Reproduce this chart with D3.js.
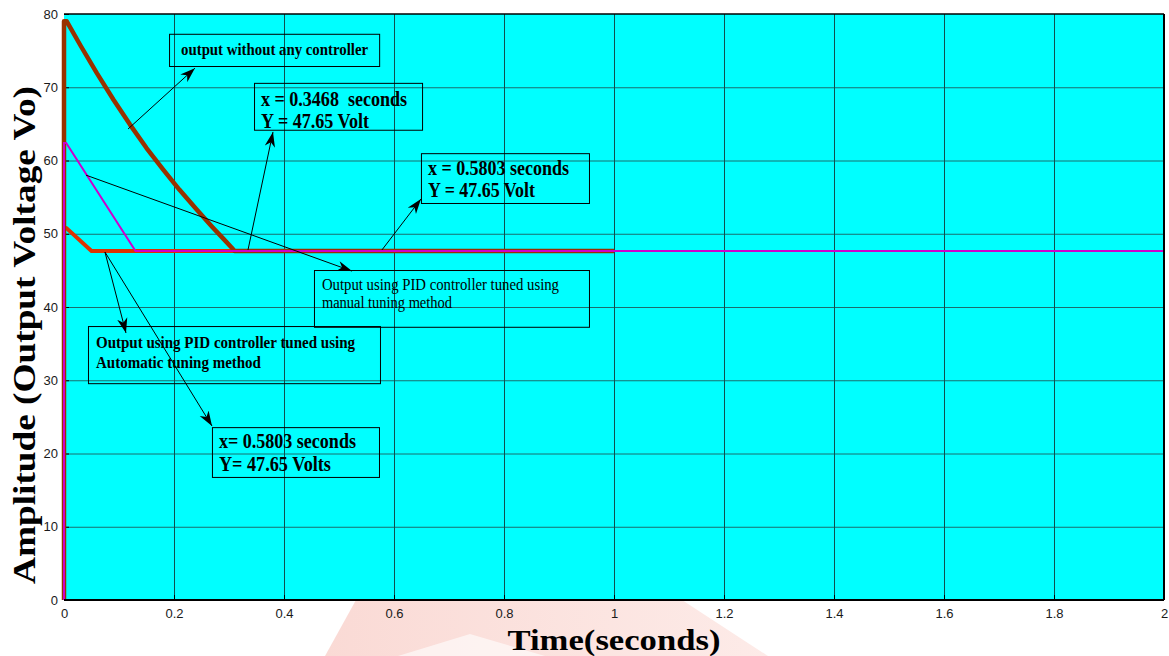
<!DOCTYPE html>
<html>
<head>
<meta charset="utf-8">
<script src="https://d3js.org/d3.v7.min.js"></script>
<style>
  body { margin: 0; background: #fff; }
  text { white-space: pre; }
</style>
</head>
<body>
<script>
// Response data (time in seconds, output voltage in volts)
var noCtrlTime = [0, 0, 0.005, 0.03, 0.06, 0.09, 0.12, 0.15, 0.18, 0.21, 0.24, 0.27, 0.29, 0.305, 0.31, 1.0];
var noCtrlVolt = [0, 79, 79, 75.7, 71.9, 68.3, 64.9, 61.7, 58.8, 56.0, 53.4, 50.9, 49.3, 48.1, 47.65, 47.65];

var manualTime = [0, 0, 0.004, 0.13, 2.0];
var manualVolt = [0, 62.4, 62.4, 47.65, 47.65];

var autoTime = [0, 0, 0.004, 0.05, 1.0];
var autoVolt = [0, 50.8, 50.8, 47.65, 47.65];

var xTicks = [0, 0.2, 0.4, 0.6, 0.8, 1, 1.2, 1.4, 1.6, 1.8, 2];
var yTicks = [0, 10, 20, 30, 40, 50, 60, 70, 80];

// annotation texts
var noteLines = [
  ["output without any controller"],
  ["x = 0.3468  seconds", "Y = 47.65 Volt"],
  ["x = 0.5803 seconds", "Y = 47.65 Volt"],
  ["Output using PID controller tuned using", "manual tuning method"],
  ["Output using PID controller tuned using", "Automatic tuning method"],
  ["x= 0.5803 seconds", "Y= 47.65 Volts"]
];

// Setting up sizes
var svgWidth = 1169;
var svgHeight = 656;
var margin = { top: 14, right: 5, bottom: 56, left: 64 };
var width = svgWidth - margin.left - margin.right;
var height = svgHeight - margin.top - margin.bottom;

var svg = d3.select("body")
  .append("svg")
  .attr("width", svgWidth)
  .attr("height", svgHeight);

// faint watermark behind the axis labels
var defs = svg.append("defs");
var grad = defs.append("linearGradient").attr("id", "wm").attr("x1", 0).attr("x2", 1);
grad.append("stop").attr("offset", "0").attr("stop-color", "#fadad5");
grad.append("stop").attr("offset", "1").attr("stop-color", "#fdebe8");
svg.append("path")
  .attr("d", "M356,600 L682,600 L768,656 L325,656 Z")
  .attr("fill", "url(#wm)");
svg.append("path")
  .attr("d", "M398,656 L470,634 L545,656 Z")
  .attr("fill", "#ffffff")
  .attr("opacity", 0.6);

defs.append("marker")
  .attr("id", "head")
  .attr("markerUnits", "userSpaceOnUse")
  .attr("viewBox", "-15 -6 16 12")
  .attr("refX", 0).attr("refY", 0)
  .attr("markerWidth", 16).attr("markerHeight", 12)
  .attr("orient", "auto")
  .append("path")
  .attr("d", "M0,0 L-15,-5.2 L-10.5,0 L-15,5.2 Z")
  .attr("fill", "#000");

var chart = svg.append("g")
  .attr("transform", "translate(" + margin.left + "," + margin.top + ")");

var x = d3.scaleLinear().domain([0, 2]).range([0, width]);
var y = d3.scaleLinear().domain([0, 80]).range([height, 0]);

chart.append("rect")
  .attr("width", width)
  .attr("height", height)
  .attr("fill", "#00ffff");

// grid
chart.selectAll(".hgrid")
  .data(yTicks.slice(1, -1))
  .enter().append("line")
  .attr("x1", 0).attr("x2", width)
  .attr("y1", function (d) { return y(d) + 0.5; })
  .attr("y2", function (d) { return y(d) + 0.5; })
  .attr("stroke", "#1b6e6e")
  .attr("stroke-width", 1);

chart.selectAll(".vgrid")
  .data(xTicks.slice(1, -1))
  .enter().append("line")
  .attr("y1", 0).attr("y2", height)
  .attr("x1", function (d) { return x(d) + 0.5; })
  .attr("x2", function (d) { return x(d) + 0.5; })
  .attr("stroke", "#0f4f4f")
  .attr("stroke-width", 1);

// axes
var bottomAxis = d3.axisBottom(x).tickValues(xTicks).tickSize(-5).tickPadding(9)
  .tickFormat(function (d) { return String(d); });
var leftAxis = d3.axisLeft(y).tickValues(yTicks).tickSize(-5).tickPadding(6);

var gx = chart.append("g")
  .attr("transform", "translate(0," + height + ")")
  .call(bottomAxis);
var gy = chart.append("g").call(leftAxis);

[gx, gy].forEach(function (g) {
  g.select(".domain").remove();
  g.selectAll("text")
    .style("font-family", "Arial, 'Liberation Sans', sans-serif")
    .style("font-size", "13px")
    .attr("fill", "#1a1a1a");
  g.selectAll(".tick line").attr("stroke", "#000");
});

// curves
var line = d3.line()
  .x(function (d) { return x(d[0]); })
  .y(function (d) { return y(d[1]); });

chart.append("path")
  .datum(d3.zip(autoTime, autoVolt))
  .attr("d", line)
  .attr("fill", "none")
  .attr("stroke", "#dd3300")
  .attr("stroke-width", 4)
  .attr("stroke-linejoin", "round");

chart.append("path")
  .datum(d3.zip(noCtrlTime, noCtrlVolt))
  .attr("d", line)
  .attr("fill", "none")
  .attr("stroke", "#983200")
  .attr("stroke-width", 4.5)
  .attr("stroke-linejoin", "round");

chart.append("path")
  .datum(d3.zip(manualTime, manualVolt))
  .attr("d", line)
  .attr("fill", "none")
  .attr("stroke", "#cc00cc")
  .attr("stroke-width", 2);

// plot frame
chart.append("line").attr("x1", 0).attr("x2", width).attr("y1", height).attr("y2", height)
  .attr("stroke", "#000").attr("stroke-width", 2);
chart.append("line").attr("x1", 0).attr("x2", width).attr("y1", 0).attr("y2", 0)
  .attr("stroke", "#000").attr("stroke-width", 1.5);
chart.append("line").attr("x1", width).attr("x2", width).attr("y1", 0).attr("y2", height)
  .attr("stroke", "#000").attr("stroke-width", 2);

// annotation layout, in data units: box corners, then text styling
var noteBoxes = [
  [0.191, 77.3, 0.573, 72.9],
  [0.3455, 70.6, 0.651, 64.2],
  [0.649, 61.0, 0.9545, 54.2],
  [0.4545, 45.05, 0.9545, 37.3],
  [0.0436, 37.4, 0.5745, 29.6],
  [0.269, 23.6, 0.5727, 16.8]
];
var noteStyle = [
  { pad: 12, base: 21, lead: 0, size: 16, weight: "bold", widths: [187] },
  { pad: 7, base: 23, lead: 22, size: 20, weight: "bold", widths: [146, 108] },
  { pad: 7, base: 22, lead: 22, size: 20, weight: "bold", widths: [141, 107] },
  { pad: 8, base: 20, lead: 18, size: 16, weight: "normal", widths: [237, 130] },
  { pad: 8, base: 22, lead: 20, size: 16, weight: "bold", widths: [259, 165] },
  { pad: 7, base: 21, lead: 23, size: 20, weight: "bold", widths: [137, 112] }
];

var noteArrows = [
  [0.1164, 64.3, 0.238, 72.6],
  [0.3345, 47.78, 0.38, 63.9],
  [0.578, 47.78, 0.649, 54.74],
  [0.04, 58.0, 0.5236, 44.9],
  [0.0745, 47.5, 0.1127, 36.45],
  [0.0745, 47.5, 0.2691, 23.75]
];

noteBoxes.forEach(function (b, i) {
  var st = noteStyle[i];
  var g = chart.append("g");
  g.append("rect")
    .attr("x", x(b[0]) + 0.5)
    .attr("y", y(b[1]) + 0.5)
    .attr("width", x(b[2]) - x(b[0]))
    .attr("height", y(b[3]) - y(b[1]))
    .attr("fill", "none")
    .attr("stroke", "#000")
    .attr("stroke-width", 1);
  noteLines[i].forEach(function (t, k) {
    g.append("text")
      .attr("x", x(b[0]) + st.pad)
      .attr("y", y(b[1]) + st.base + k * st.lead)
      .attr("textLength", st.widths[k])
      .attr("lengthAdjust", "spacingAndGlyphs")
      .style("font-family", "'Liberation Serif', 'Times New Roman', serif")
      .style("font-size", st.size + "px")
      .style("font-weight", st.weight)
      .attr("fill", "#000")
      .text(t);
  });
});

chart.selectAll(".arrow")
  .data(noteArrows)
  .enter().append("line")
  .attr("x1", function (d) { return x(d[0]); })
  .attr("y1", function (d) { return y(d[1]); })
  .attr("x2", function (d) { return x(d[2]); })
  .attr("y2", function (d) { return y(d[3]); })
  .attr("stroke", "#000")
  .attr("stroke-width", 1)
  .attr("marker-end", "url(#head)");

// axis titles
svg.append("text")
  .attr("transform", "translate(35,335) rotate(-90)")
  .attr("text-anchor", "middle")
  .attr("textLength", 498)
  .attr("lengthAdjust", "spacingAndGlyphs")
  .style("font-family", "'Liberation Serif', 'Times New Roman', serif")
  .style("font-size", "31px")
  .style("font-weight", "bold")
  .text("Amplitude (Output Voltage Vo)");

svg.append("text")
  .attr("x", margin.left + width / 2)
  .attr("y", 650)
  .attr("text-anchor", "middle")
  .attr("textLength", 213)
  .attr("lengthAdjust", "spacingAndGlyphs")
  .style("font-family", "'Liberation Serif', 'Times New Roman', serif")
  .style("font-size", "30px")
  .style("font-weight", "bold")
  .text("Time(seconds)");
</script>
</body>
</html>
